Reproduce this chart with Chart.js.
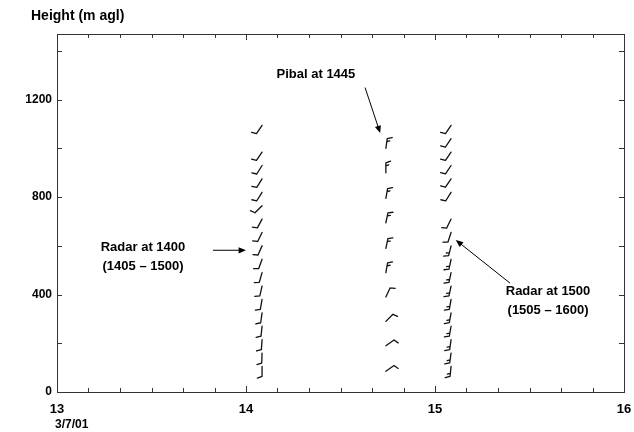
<!DOCTYPE html>
<html>
<head>
<meta charset="utf-8">
<script src="https://cdn.jsdelivr.net/npm/chart.js@4"></script>
<style>
  body { margin: 0; background: #fff; }
  #wrap { width: 634px; height: 432px; }
</style>
</head>
<body>
<div id="wrap"><canvas id="myChart" width="634" height="432"></canvas></div>
<script>
// profile times (decimal hours, 3/7/01)
const radar1400Time = 14.085;
const pibalTime = 14.74;
const radar1500Time = 15.085;

// radar at 1400 (1405 - 1500)
const radar1400Heights = [105, 160, 215, 270, 325, 380, 435, 490, 545, 600, 655, 710, 765, 820, 875, 930, 985, 1095];
const radar1400Dir = [180, 182, 184, 186, 188, 190, 193, 196, 200, 204, 206, 208, 225, 212, 212, 212, 214, 214];
const radar1400Spd = [10, 10, 10, 10, 10, 10, 10, 10, 10, 10, 10, 10, 10, 10, 10, 10, 10, 10];

// pibal at 1445
const pibalHeights = [85, 190, 290, 390, 490, 590, 695, 795, 900, 1000];
const pibalDir = [55, 55, 45, 25, 10, 12, 12, 10, 0, 8];
const pibalSpd = [10, 10, 10, 10, 15, 15, 15, 15, 15, 15];

// radar at 1500 (1505 - 1600)
const radar1500Heights = [105, 160, 215, 270, 325, 380, 435, 490, 545, 600, 655, 710, 820, 875, 930, 985, 1040, 1095];
const radar1500Dir = [186, 188, 188, 190, 190, 190, 192, 192, 192, 194, 198, 206, 212, 214, 214, 214, 214, 214];
const radar1500Spd = [15, 15, 15, 15, 15, 15, 15, 15, 15, 15, 10, 10, 10, 10, 10, 10, 10, 10];

// axis ticks
const xMin = 13, xMax = 16;
const xMajor = [13, 14, 15, 16];
const yMin = 0, yMax = 1470;
const yTicks = [0, 200, 400, 600, 800, 1000, 1200, 1400];
const yLabelled = [0, 400, 800, 1200];

const FONT = '"Liberation Sans", Arial, sans-serif';

function profile(t, hs, dirs, spds) {
  return hs.map((h, i) => ({ x: t, y: h, dir: dirs[i], spd: spds[i] }));
}

function drawBarb(c, x, y, dir, spd) {
  const L = 10, B = 5;
  const r = dir * Math.PI / 180;
  const dx = Math.sin(r), dy = -Math.cos(r);
  const ex = x + dx * L, ey = y + dy * L;
  const rx = -dy, ry = dx;
  const tilt = 0.35;
  const bx = rx * Math.cos(tilt) + dx * Math.sin(tilt);
  const by = ry * Math.cos(tilt) + dy * Math.sin(tilt);
  c.beginPath();
  c.moveTo(x, y);
  c.lineTo(ex, ey);
  let s = spd, pos = 0;
  while (s >= 10) {
    const px = ex - dx * pos, py = ey - dy * pos;
    c.moveTo(px, py);
    c.lineTo(px + bx * B, py + by * B);
    pos += 3; s -= 10;
  }
  if (s >= 5) {
    if (pos === 0) pos = 3;
    const px = ex - dx * pos, py = ey - dy * pos;
    c.moveTo(px, py);
    c.lineTo(px + bx * B * 0.6, py + by * B * 0.6);
  }
  c.stroke();
}

function arrow(c, x1, y1, x2, y2) {
  const a = Math.atan2(y2 - y1, x2 - x1);
  const h = 8, w = 0.4;
  c.beginPath();
  c.moveTo(x1, y1);
  c.lineTo(x2 - Math.cos(a) * h * 0.8, y2 - Math.sin(a) * h * 0.8);
  c.stroke();
  c.beginPath();
  c.moveTo(x2, y2);
  c.lineTo(x2 - h * Math.cos(a - w), y2 - h * Math.sin(a - w));
  c.lineTo(x2 - h * Math.cos(a + w), y2 - h * Math.sin(a + w));
  c.closePath();
  c.fill();
}

const barbPlugin = {
  id: 'barbs',
  afterDatasetsDraw(chart) {
    const c = chart.ctx;
    c.save();
    c.strokeStyle = '#111';
    c.lineWidth = 1.3;
    c.lineCap = 'round';
    c.lineJoin = 'round';
    chart.data.datasets.forEach((ds, i) => {
      const meta = chart.getDatasetMeta(i);
      meta.data.forEach((pt, j) => {
        drawBarb(c, pt.x, pt.y, ds.data[j].dir, ds.data[j].spd);
      });
    });
    c.restore();
  }
};

const framePlugin = {
  id: 'frame',
  afterDraw(chart) {
    const c = chart.ctx;
    const a = chart.chartArea;
    const xs = chart.scales.x, ys = chart.scales.y;
    c.save();
    c.strokeStyle = '#333';
    c.lineWidth = 1;
    c.strokeRect(a.left + 0.5, a.top + 0.5, a.right - a.left, a.bottom - a.top);
    c.beginPath();
    xs.ticks.forEach(t => {
      const px = Math.round(xs.getPixelForValue(t.value)) + 0.5;
      const len = xMajor.some(m => Math.abs(m - t.value) < 1e-6) ? 6 : 4;
      c.moveTo(px, a.bottom); c.lineTo(px, a.bottom - len);
      c.moveTo(px, a.top); c.lineTo(px, a.top + len);
    });
    ys.ticks.forEach(t => {
      const py = Math.round(ys.getPixelForValue(t.value)) + 0.5;
      c.moveTo(a.left, py); c.lineTo(a.left + 5, py);
      c.moveTo(a.right, py); c.lineTo(a.right - 5, py);
    });
    c.stroke();

    // texts
    c.fillStyle = '#000';
    c.font = 'bold 14px ' + FONT;
    c.textBaseline = 'middle';
    c.textAlign = 'left';
    c.fillText('Height (m agl)', 31, 16);
    c.font = 'bold 12px ' + FONT;
    c.fillText('3/7/01', 55, 425);

    c.font = 'bold 13px ' + FONT;
    c.textAlign = 'center';
    const X = v => xs.getPixelForValue(v), Y = v => ys.getPixelForValue(v);
    c.fillText('Pibal at 1445', X(14.37), Y(1302));
    c.fillText('Radar at 1400', X(13.455), Y(595));
    c.fillText('(1405 \u2013 1500)', X(13.455), Y(517));
    c.fillText('Radar at 1500', X(15.598), Y(415));
    c.fillText('(1505 \u2013 1600)', X(15.598), Y(337));

    c.strokeStyle = '#000';
    c.lineWidth = 1;
    arrow(c, X(14.63), Y(1250), X(14.71), Y(1063));
    arrow(c, X(13.825), Y(582), X(14.0), Y(582));
    arrow(c, X(15.397), Y(447), X(15.11), Y(624));
    c.restore();
  }
};

const ctx = document.getElementById('myChart').getContext('2d');

const myChart = new Chart(ctx, {
  type: 'scatter',
  data: {
    datasets: [
      { label: 'Radar at 1400', data: profile(radar1400Time, radar1400Heights, radar1400Dir, radar1400Spd) },
      { label: 'Pibal at 1445', data: profile(pibalTime, pibalHeights, pibalDir, pibalSpd) },
      { label: 'Radar at 1500', data: profile(radar1500Time, radar1500Heights, radar1500Dir, radar1500Spd) }
    ]
  },
  options: {
    responsive: false,
    animation: false,
    events: [],
    layout: { padding: { top: 34, right: 10, left: 0, bottom: 0 } },
    elements: { point: { radius: 0, hoverRadius: 0 } },
    plugins: { legend: { display: false }, tooltip: { enabled: false } },
    scales: {
      x: {
        type: 'linear',
        min: xMin,
        max: xMax,
        afterBuildTicks: (s) => {
          const t = [];
          for (let k = 0; k <= (xMax - xMin) * 6; k++) t.push({ value: xMin + k / 6 });
          s.ticks = t;
        },
        afterFit: (s) => { s.height = 40; s.paddingLeft = 0; s.paddingRight = 0; },
        grid: { display: false, drawTicks: false },
        border: { display: false },
        ticks: {
          autoSkip: false,
          maxRotation: 0,
          padding: 10,
          color: '#000',
          font: { family: FONT, size: 13, weight: 'bold' },
          callback: (v) => {
            const m = xMajor.find(n => Math.abs(n - v) < 1e-6);
            return m === undefined ? '' : String(m);
          }
        }
      },
      y: {
        type: 'linear',
        min: yMin,
        max: yMax,
        afterBuildTicks: (s) => { s.ticks = yTicks.map(v => ({ value: v })); },
        afterFit: (s) => { s.width = 57; s.paddingTop = 0; s.paddingBottom = 0; },
        grid: { display: false, drawTicks: false },
        border: { display: false },
        ticks: {
          autoSkip: false,
          padding: 5,
          color: '#000',
          font: { family: FONT, size: 12, weight: 'bold' },
          callback: (v) => yLabelled.includes(v) ? String(v) : ''
        }
      }
    }
  },
  plugins: [barbPlugin, framePlugin]
});
</script>
</body>
</html>
